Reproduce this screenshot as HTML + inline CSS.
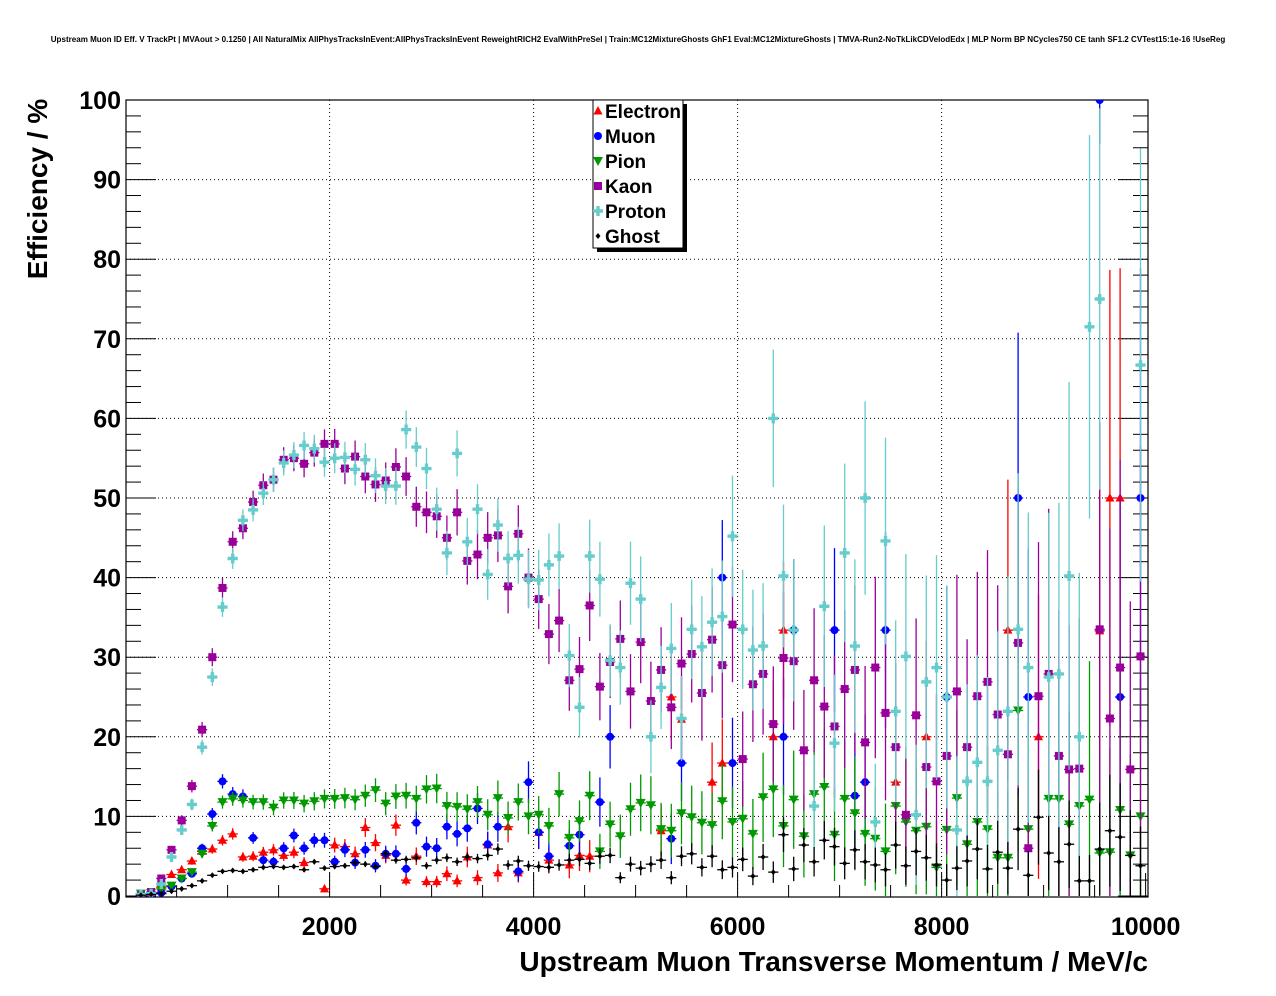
<!DOCTYPE html>
<html><head><meta charset="utf-8"><style>
html,body{margin:0;padding:0;background:#fff;}
svg{display:block;font-family:"Liberation Sans",sans-serif;}
</style></head><body>
<svg id="chart" width="1276" height="996" viewBox="0 0 1276 996" xmlns="http://www.w3.org/2000/svg">
<rect x="0" y="0" width="1276" height="996" fill="#fff"/>
<text x="638" y="42" font-size="8.05" font-weight="bold" text-anchor="middle">Upstream Muon ID Eff. V TrackPt | MVAout &gt; 0.1250 | All NaturalMix AllPhysTracksInEvent:AllPhysTracksInEvent ReweightRICH2 EvalWithPreSel | Train:MC12MixtureGhosts GhF1 Eval:MC12MixtureGhosts | TMVA-Run2-NoTkLikCDVelodEdx | MLP Norm BP NCycles750 CE tanh SF1.2 CVTest15:1e-16 !UseReg</text>
<g id="grid"></g>
<g id="axes"></g>
<defs><clipPath id="plotclip"><rect x="126" y="100" width="1022" height="797"/></clipPath></defs>
<g id="marks" clip-path="url(#plotclip)"></g>
<text transform="translate(47,189) rotate(-90)" font-size="28" font-weight="bold" text-anchor="middle">Efficiency / %</text>
<text x="1148" y="971" font-size="28" font-weight="bold" text-anchor="end">Upstream Muon Transverse Momentum / MeV/c</text>
<g id="legend"></g>
</svg>
<script>
const binCenters = [];
for (let i = 0; i < 99; i++) binCenters.push(150 + 100 * i);
const xTicks = [2000, 4000, 6000, 8000, 10000];
const xTickLabels = ["2000", "4000", "6000", "8000", "10000"];
const yTicks = [0, 10, 20, 30, 40, 50, 60, 70, 80, 90, 100];
const yTickLabels = ["0","10","20","30","40","50","60","70","80","90","100"];
const seriesNames = ["Electron","Muon","Pion","Kaon","Proton","Ghost"];
const electron = [0.1,0.2,1.1,2.7,3.3,4.4,5.6,5.9,7.0,7.8,
 4.9,5.0,5.5,5.8,5.1,5.5,4.2,null,0.9,6.4,
 6.2,5.3,8.6,6.7,5.1,8.9,2.0,5.0,1.8,1.8,
 2.8,1.9,4.9,2.3,6.4,2.9,8.7,2.9,null,8.0,
 4.5,null,3.9,5.1,5.0,null,null,null,null,null,
 null,8.2,25,22.2,null,null,14.3,16.7,null,null,
 null,null,20,33.4,null,null,null,null,null,null,
 null,null,null,null,14.3,null,null,20,null,null,
 null,null,null,null,null,33.4,null,null,20,null,
 null,null,null,null,33.3,50,50,null,null];
const muon = [0.2,0.1,0.4,1.2,2.2,2.8,6.0,10.3,14.4,12.8,
 12.5,7.3,4.5,4.3,6.0,7.6,6.0,7.0,7.0,4.3,
 5.8,4.2,5.8,3.8,5.3,5.3,3.4,9.2,6.2,6.0,
 8.7,7.8,8.5,11.0,6.5,8.7,null,3.1,14.3,8.0,
 5.0,null,6.3,7.7,null,11.8,20.0,null,null,null,
 null,null,7.2,16.7,null,null,null,40,16.7,null,
 null,null,null,20.0,33.4,null,null,null,33.4,null,
 12.6,14.3,null,33.4,null,null,null,null,null,25,
 null,null,null,null,null,null,50,25,null,null,
 null,null,null,null,100,null,25,null,50];
const pion = [0.3,0.4,0.9,1.3,2.2,3.0,5.3,8.8,11.8,12.2,
 12.0,11.8,11.8,11.1,12.0,12.0,11.6,11.9,12.2,12.2,
 12.3,12.1,12.6,13.3,11.6,12.5,12.6,12.2,13.4,13.5,
 11.3,11.2,10.9,11.8,10.2,12.3,9.8,11.8,10.0,10.2,
 8.8,12.8,7.3,9.4,12.6,5.6,9.0,7.5,10.9,11.7,
 11.4,8.4,8.2,10.4,9.9,9.2,8.9,11.9,9.3,9.7,
 7.8,12.4,13.4,8.8,12.1,7.5,12.8,13.7,7.7,12.2,
 10.4,7.8,7.2,5.6,11.3,9.3,8.2,8.7,3.6,8.3,
 12.3,6.5,9.3,8.4,4.8,4.8,23.3,8.4,null,12.2,
 12.2,9.0,11.3,12.1,5.4,5.5,10.8,5.1,10.0];
const kaon = [0.1,0.5,2.2,5.8,9.5,13.8,20.9,30.0,38.7,44.5,
 46.2,49.5,51.6,52.3,54.8,55.0,54.3,55.7,56.8,56.8,
 53.7,55.2,52.7,51.7,52.2,53.9,52.7,48.9,48.2,47.7,
 45.0,48.2,42.1,42.9,45.0,45.3,38.9,45.5,40.0,37.3,
 32.9,34.6,27.1,28.5,36.5,26.3,29.4,32.3,25.7,31.9,
 24.5,28.4,23.7,29.2,30.4,25.5,32.2,29.0,34.1,17.2,
 26.6,27.9,21.6,29.9,29.5,18.3,27.1,23.8,21.3,26.0,
 28.4,19.3,28.7,23.0,18.7,10.2,22.7,16.2,14.4,17.6,
 25.7,18.7,25.1,26.9,22.8,17.8,31.8,6.0,25.1,27.9,
 17.6,15.9,16.0,null,33.5,22.3,28.7,15.9,30.1];
const proton = [0.2,0.3,1.5,4.9,8.3,11.5,18.7,27.5,36.3,42.4,
 47.2,48.5,50.6,52.3,54.4,55.4,56.6,56.2,54.5,55.0,
 55.1,53.6,54.8,52.8,51.5,51.5,58.6,56.4,53.7,48.6,
 43.1,55.6,44.5,48.6,40.4,46.6,42.4,42.8,39.8,39.7,
 41.6,42.7,30.2,23.7,42.7,39.8,29.6,28.7,39.3,37.3,
 20.0,26.2,31.1,22.3,33.5,31.3,34.4,35.1,45.2,33.5,
 30.9,31.4,60.0,40.2,33.4,null,11.3,36.4,19.2,43.1,
 31.4,50.0,9.3,44.6,23.2,30.1,10.2,26.9,28.7,25.0,
 8.3,14.4,16.8,14.4,18.3,23.2,33.5,28.7,null,27.5,
 27.9,40.2,20.0,71.5,75.0,null,null,null,66.7];
const ghost = [0.1,0.2,0.3,0.6,0.9,1.3,1.9,2.6,3.1,3.2,
 3.1,3.3,3.6,3.7,3.6,3.7,3.3,4.3,3.5,3.7,
 3.8,4.2,4.0,3.7,5.3,4.5,4.6,4.8,3.8,4.5,
 4.8,4.3,4.9,4.7,5.1,5.9,3.9,4.4,3.8,3.7,
 3.6,3.9,4.5,4.6,4.1,5.0,5.1,2.3,4.0,3.5,
 4.0,4.5,2.3,5.0,5.3,3.6,5.0,3.3,3.6,4.6,
 2.5,4.9,3.0,7.7,3.4,6.4,4.3,7.0,6.2,4.1,
 5.8,4.3,3.9,3.3,6.4,3.8,5.6,4.8,3.9,2.0,
 3.5,4.4,5.9,3.4,5.5,3.5,8.4,2.6,9.9,5.4,
 4.3,6.5,1.9,1.9,5.9,8.2,7.4,5.1,3.8];

const NS = "http://www.w3.org/2000/svg";
const X0 = 125.6, XS = 0.1020, Y0 = 896, YS = 7.96;
function xScale(m){ return X0 + m * XS; }
function yScale(v){ return Y0 - v * YS; }
function mk(tag, attrs, parent){ const e = document.createElementNS(NS, tag); for (const k in attrs) e.setAttribute(k, attrs[k]); parent.appendChild(e); return e; }

const grid = document.getElementById('grid');
const axes = document.getElementById('axes');
const marks = document.getElementById('marks');
const legend = document.getElementById('legend');

for (let i = 1; i < yTicks.length - 1; i++) {
  const gl = mk('line', {x1:126, x2:1148, y1:yScale(yTicks[i]), y2:yScale(yTicks[i]), stroke:'#000', 'stroke-width':1, 'stroke-dasharray':'1,3'}, grid);
  
  
}
for (let i = 0; i < xTicks.length - 1; i++) {
  const gl = mk('line', {x1:xScale(xTicks[i]), x2:xScale(xTicks[i]), y1:100, y2:896, stroke:'#000', 'stroke-width':1, 'stroke-dasharray':'1,3'}, grid);
  
  
}
const fr = mk('rect', {x:126, y:100, width:1022, height:797, fill:'none', stroke:'#000', 'stroke-width':1.2}, axes);


for (let v = 0; v <= 100; v += 2) {
  const major = v % 10 === 0;
  const len = major ? 30 : 15;
  const y = yScale(v);
  mk('line', {x1:126, x2:126+len, y1:y, y2:y, stroke:'#000', 'stroke-width':1}, axes);
  mk('line', {x1:1148, x2:1148-len, y1:y, y2:y, stroke:'#000', 'stroke-width':1}, axes);
}
yTicks.forEach((v, i) => {
  const t = mk('text', {x:121, y:yScale(v)+9, 'font-size':25, 'font-weight':'bold', 'text-anchor':'end'}, axes);
  t.textContent = yTickLabels[i];
  
  
});
for (let m = 500; m <= 10000; m += 500) {
  const major = m % 2000 === 0;
  const len = major ? 24 : 12;
  const x = xScale(m);
  mk('line', {x1:x, x2:x, y1:897, y2:897-len, stroke:'#000', 'stroke-width':1}, axes);
}
xTicks.forEach((m, i) => {
  const t = mk('text', {x:xScale(m), y:935, 'font-size':25, 'font-weight':'bold', 'text-anchor':'middle'}, axes);
  t.textContent = xTickLabels[i];
  
  
});

const colors = ['#ff0000','#0000ff','#009900','#990099','#66cccc','#000000'];
const allSeries = [electron, muon, pion, kaon, proton, ghost];
const nScale = [1, 1, 1, 1, 1, 5];

function drawMarker(s, cx, cy, parent, col){
  if (s === 0) return mk('polygon', {points:`${cx},${cy-5} ${cx+4.5},${cy+3.5} ${cx-4.5},${cy+3.5}`, fill:col}, parent);
  if (s === 1) return mk('circle', {cx:cx, cy:cy, r:4, fill:col}, parent);
  if (s === 2) return mk('polygon', {points:`${cx-5},${cy-4} ${cx+5},${cy-4} ${cx},${cy+5}`, fill:col}, parent);
  if (s === 3) return mk('rect', {x:cx-4, y:cy-4, width:8, height:8, fill:col}, parent);
  if (s === 4) return mk('path', {d:`M${cx-1.7},${cy-5}h3.4v3.3h3.3v3.4h-3.3v3.3h-3.4v-3.3h-3.3v-3.4h3.3z`, fill:col}, parent);
  return mk('polygon', {points:`${cx},${cy-3} ${cx+2.5},${cy} ${cx},${cy+3} ${cx-2.5},${cy}`, fill:col}, parent);
}

allSeries.forEach((arr, s) => {
  const g = mk('g', {}, marks);
  
  
  const col = colors[s];
  arr.forEach((v, i) => {
    if (v === null) return;
    const m = binCenters[i];
    const n = Math.max(3, 3000 * Math.exp(-m / 1400)) * nScale[s];
    const err = Math.sqrt(Math.max(v, 1) * Math.max(100 - v, 1) / n);
    const cx = xScale(m), cy = yScale(v);
    const pg = mk('g', {}, g);
    
    
    mk('line', {x1:cx, x2:cx, y1:yScale(Math.min(100, v+err)), y2:yScale(Math.max(0, v-err)), stroke:col, 'stroke-width':1.3}, pg);
    mk('line', {x1:xScale(m-50), x2:xScale(m+50), y1:cy, y2:cy, stroke:col, 'stroke-width':1.3}, pg);
    drawMarker(s, cx, cy, pg, col);
  });
});

mk('rect', {x:597, y:104, width:90, height:148, fill:'#000'}, legend);
const lb = mk('rect', {x:593, y:100, width:90, height:148, fill:'#fff', stroke:'#000', 'stroke-width':1}, legend);


seriesNames.forEach((nm, s) => {
  const y = 111 + 25 * s;
  const eg = mk('g', {}, legend);
  
  
  drawMarker(s, 598, y, eg, colors[s]);
  const t = mk('text', {x:605, y:y+7, 'font-size':19, 'font-weight':'bold'}, eg);
  t.textContent = nm;
});
</script>
</body></html>
